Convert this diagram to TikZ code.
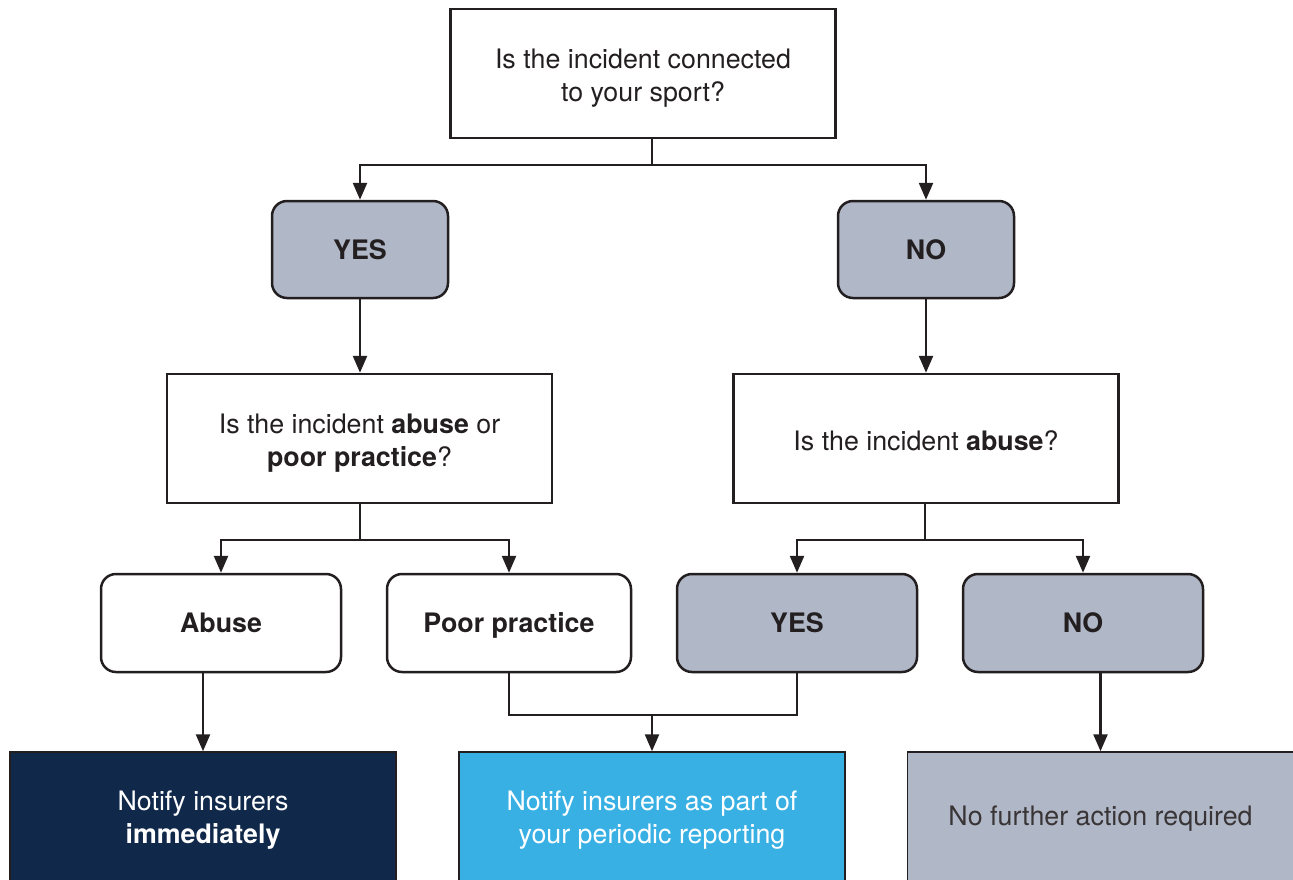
\documentclass[tikz,border=0pt]{standalone}
\usepackage{fontspec}
\setmainfont{TeX Gyre Heros}
\usetikzlibrary{arrows.meta}

\definecolor{lineclr}{HTML}{231F20}
\definecolor{greyclr}{HTML}{B0B7C7}
\definecolor{navyclr}{HTML}{10284A}
\definecolor{blueclr}{HTML}{38B0E4}

% lower the text of a node without moving its frame
\newcommand{\lowtext}[2]{\raisebox{-#1}[\height][\depth]{#2}}

\tikzset{
  base/.style={draw=lineclr,line width=2.5pt,align=center,inner sep=0pt,
    text=lineclr,font=\fontsize{26.8}{33}\selectfont},
  qbox/.style={base,fill=white,minimum width=385,minimum height=129},
  ansbox/.style={base,rounded corners=15pt,text height=19pt,text depth=0pt,
    font=\fontsize{26.8}{33}\selectfont\bfseries},
  bigans/.style={ansbox,fill=greyclr,minimum width=176,minimum height=97},
  smallans/.style={ansbox,minimum width=240,minimum height=98},
  endbox/.style={base,line width=1.5pt,minimum width=386,minimum height=133},
  link/.style={draw=lineclr,line width=2.5pt},
  arr/.style={link,-{Triangle[length=17pt,width=14pt]}}
}

\begin{document}
\begin{tikzpicture}[x=1pt,y=-1pt]
\path[use as bounding box] (0,0) rectangle (1293,879);
\clip (0,0) rectangle (1293,879);

% questions
\node[qbox] (q1) at (643,73.5) {\lowtext{5pt}{\parbox{380pt}{\centering Is the incident connected\\to your sport?}}};
\node[bigans] (yes1) at (360,249.5) {YES};
\node[bigans] (no1) at (926,249.5) {NO};
\node[qbox] (q2) at (359.5,438.5) {\lowtext{5pt}{\parbox{380pt}{\centering Is the incident \textbf{abuse} or\\\textbf{poor practice}?}}};
\node[qbox] (q3) at (926,438.5) {\lowtext{2pt}{Is the incident \textbf{abuse}?}};

% answers
\node[smallans,fill=white] (abuse) at (221,623) {Abuse};
\node[smallans,fill=white,minimum width=244] (poor) at (509,623) {Poor practice};
\node[smallans,fill=greyclr] (yes2) at (797,623) {YES};
\node[smallans,fill=greyclr] (no2) at (1083,623) {NO};

% outcomes
\node[endbox,fill=navyclr,text=white] (act1) at (203,818.5) {\lowtext{2pt}{\parbox{380pt}{\centering Notify insurers\\\textbf{immediately}}}};
\node[endbox,fill=blueclr,text=white] (act2) at (652,818.5) {\lowtext{2pt}{\parbox{380pt}{\centering Notify insurers as part of\\your periodic reporting}}};
\node[endbox,fill=greyclr,text=lineclr!90] (act3) at (1100.5,818.5) {No further action required};

\coordinate (j1) at (652,165);
\coordinate (j2) at (360,540);
\coordinate (j3) at (925,540);
\coordinate (j4) at (652,715);

\draw[link] (q1.south -| j1) -- (j1);
\draw[arr] (j1) -| (yes1.north);
\draw[arr] (j1) -| (no1.north);
\draw[arr] (yes1.south) -- (yes1.south |- q2.north);
\draw[arr] (no1.south) -- (no1.south |- q3.north);

\draw[link] (q2.south -| j2) -- (j2);
\draw[arr] (j2) -| (abuse.north);
\draw[arr] (j2) -| (poor.north);
\draw[link] (q3.south -| j3) -- (j3);
\draw[arr] (j3) -| (yes2.north);
\draw[arr] (j3) -| (no2.north);

\draw[arr] (abuse.south -| act1) -- (act1.north);
\draw[link] (poor.south) |- (j4) -| (yes2.south);
\draw[arr] (j4) -- (act2.north);
\draw[arr] (no2.south -| act3) -- (act3.north);
\end{tikzpicture}
\end{document}
